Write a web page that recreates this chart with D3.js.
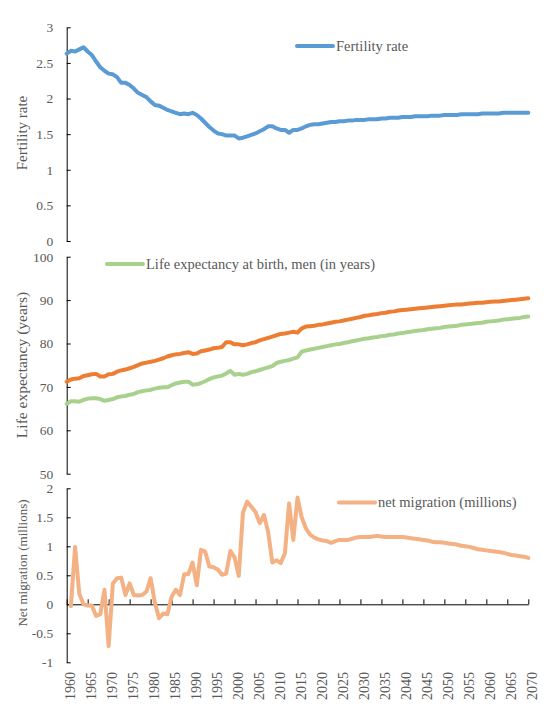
<!DOCTYPE html>
<html>
<head>
<meta charset="utf-8">
<script src="https://cdn.jsdelivr.net/npm/d3@7"></script>
<style>
  html, body { margin: 0; padding: 0; background: #fff; }
  svg { display: block; font-family: "Liberation Serif", "Times New Roman", serif; }
</style>
</head>
<body>
<svg id="chart" width="552" height="708"></svg>
<script>
// ---- data -------------------------------------------------------------
const years = d3.range(1960, 2071);

const fertility = [
  2.63, 2.67, 2.66, 2.69, 2.72, 2.66, 2.61, 2.52, 2.44, 2.39,
  2.35, 2.34, 2.30, 2.22, 2.22, 2.19, 2.14, 2.08, 2.05, 2.02,
  1.96, 1.91, 1.90, 1.87, 1.84, 1.82, 1.80, 1.78, 1.79, 1.78,
  1.80, 1.77, 1.72, 1.66, 1.60, 1.55, 1.51, 1.50, 1.48, 1.48,
  1.48, 1.44, 1.45, 1.47, 1.49, 1.51, 1.54, 1.57, 1.61, 1.61,
  1.58, 1.56, 1.56, 1.52, 1.56, 1.56, 1.58, 1.61, 1.63, 1.64,
  1.64, 1.65, 1.66, 1.67, 1.67, 1.68, 1.68, 1.69, 1.69, 1.70,
  1.70, 1.70, 1.71, 1.71, 1.71, 1.72, 1.72, 1.73, 1.73, 1.73,
  1.74, 1.74, 1.74, 1.75, 1.75, 1.75, 1.75, 1.76, 1.76, 1.76,
  1.77, 1.77, 1.77, 1.77, 1.78, 1.78, 1.78, 1.78, 1.78, 1.79,
  1.79, 1.79, 1.79, 1.79, 1.80, 1.80, 1.80, 1.80, 1.80, 1.80,
  1.80
];

const lifeExpectancyWomen = [
  71.2, 71.7, 71.9, 72.0, 72.5, 72.7, 72.9, 73.0, 72.4, 72.4,
  72.9, 73.0, 73.5, 73.8, 74.0, 74.3, 74.6, 75.0, 75.4, 75.6,
  75.8, 76.0, 76.3, 76.6, 77.0, 77.3, 77.5, 77.6, 77.8, 78.0,
  77.6, 77.7, 78.2, 78.4, 78.6, 78.9, 79.0, 79.2, 80.3, 80.3,
  79.8, 79.8, 79.6, 79.8, 80.1, 80.3, 80.7, 81.0, 81.3, 81.6,
  81.9, 82.2, 82.3, 82.5, 82.7, 82.5, 83.5, 83.9, 84.0, 84.1,
  84.3, 84.4, 84.6, 84.8, 85.0, 85.1, 85.3, 85.5, 85.7, 85.9,
  86.1, 86.4, 86.5, 86.7, 86.8, 87.0, 87.1, 87.3, 87.4, 87.6,
  87.7, 87.8, 87.9, 88.0, 88.1, 88.2, 88.3, 88.4, 88.5, 88.6,
  88.7, 88.8, 88.9, 89.0, 89.0, 89.1, 89.2, 89.3, 89.4, 89.4,
  89.5, 89.6, 89.7, 89.7, 89.8, 89.9, 90.0, 90.1, 90.2, 90.3,
  90.4
];

const lifeExpectancyMen = [
  66.1, 66.7, 66.7, 66.6, 67.0, 67.3, 67.4, 67.4, 67.2, 66.8,
  67.0, 67.2, 67.6, 67.8, 67.9, 68.2, 68.4, 68.8, 69.0, 69.2,
  69.3, 69.6, 69.8, 69.9, 69.9, 70.4, 70.8, 71.0, 71.2, 71.2,
  70.5, 70.6, 70.9, 71.3, 71.8, 72.2, 72.4, 72.6, 73.1, 73.7,
  72.8, 73.0, 72.8, 73.0, 73.4, 73.6, 73.9, 74.2, 74.5, 74.8,
  75.5, 75.8, 76.0, 76.2, 76.5, 76.8, 78.1, 78.4, 78.6, 78.8,
  79.0, 79.2, 79.4, 79.6, 79.8, 79.9, 80.1, 80.3, 80.5, 80.7,
  80.9, 81.1, 81.2, 81.4, 81.5, 81.7, 81.8, 82.0, 82.1, 82.3,
  82.4, 82.6, 82.7, 82.9, 83.0, 83.1, 83.3, 83.4, 83.5, 83.6,
  83.8, 83.9, 84.0, 84.1, 84.3, 84.4, 84.5, 84.6, 84.7, 84.8,
  85.0, 85.1, 85.2, 85.3, 85.5, 85.6, 85.7, 85.8, 85.9, 86.1,
  86.2
];

const netMigration = [
  null, -0.03, 0.99, 0.18, 0.00, -0.02, -0.02, -0.20, -0.17, 0.25,
  -0.72, 0.36, 0.45, 0.46, 0.16, 0.36, 0.16, 0.15, 0.16, 0.22,
  0.45, 0.03, -0.24, -0.16, -0.17, 0.13, 0.25, 0.16, 0.52, 0.52,
  0.72, 0.33, 0.94, 0.91, 0.65, 0.64, 0.60, 0.51, 0.53, 0.92,
  0.81, 0.49, 1.58, 1.77, 1.68, 1.59, 1.40, 1.54, 1.25, 0.72,
  0.76, 0.71, 0.88, 1.74, 1.11, 1.84, 1.50, 1.31, 1.20, 1.15,
  1.12, 1.10, 1.09, 1.06, 1.09, 1.11, 1.11, 1.11, 1.13, 1.15,
  1.16, 1.16, 1.16, 1.17, 1.18, 1.17, 1.16, 1.16, 1.16, 1.16,
  1.16, 1.15, 1.14, 1.13, 1.12, 1.11, 1.10, 1.08, 1.07, 1.07,
  1.06, 1.05, 1.04, 1.03, 1.01, 1.00, 0.99, 0.97, 0.95, 0.94,
  0.93, 0.92, 0.91, 0.90, 0.89, 0.87, 0.85, 0.84, 0.83, 0.82,
  0.80
];

const yearTicks = d3.range(1960, 2071, 5);
const fertilityTicks = [0, 0.5, 1, 1.5, 2, 2.5, 3];
const lifeTicks = [50, 60, 70, 80, 90, 100];
const migrationTicks = [-1, -0.5, 0, 0.5, 1, 1.5, 2];

// ---- layout -----------------------------------------------------------
const svg = d3.select("#chart");
const TEXT = "#595959";
const AXIS = "#000";
const SERIF = '"Liberation Serif", "Times New Roman", serif';

const x = d3.scaleLinear().domain([1960, 2070]).range([66.7, 528.3]);

const yFert = d3.scaleLinear().domain([0, 3]).range([241, 27.3]);
const yLife = d3.scaleLinear().domain([50, 100]).range([473.7, 256.7]);
const yMig  = d3.scaleLinear().domain([-1, 2]).range([662.3, 488.3]);

function yAxis(scale, ticks) {
  const g = svg.append("g")
    .attr("transform", `translate(${x.range()[0]},0)`)
    .call(d3.axisLeft(scale)
      .tickValues(ticks)
      .tickSizeInner(-4)
      .tickSizeOuter(0)
      .tickPadding(13.5)
      .tickFormat(d => String(d)));
  g.select(".domain").attr("stroke", AXIS);
  g.selectAll(".tick line").attr("stroke", AXIS);
  g.selectAll(".tick text")
    .attr("fill", TEXT)
    .style("font-family", SERIF)
    .style("font-size", "13.5px");
  return g;
}

yAxis(yFert, fertilityTicks);
yAxis(yLife, lifeTicks);
yAxis(yMig, migrationTicks);

// horizontal axis crossing the migration panel at zero
const xAxisG = svg.append("g")
  .attr("transform", `translate(0,${yMig(0)})`)
  .call(d3.axisBottom(x)
    .tickValues(yearTicks)
    .tickSizeInner(-5)
    .tickSizeOuter(0)
    .tickFormat(""));
xAxisG.select(".domain").attr("stroke", AXIS);
xAxisG.selectAll(".tick line").attr("stroke", AXIS);

// year labels along the bottom, rotated
const xLabelG = svg.append("g")
  .attr("transform", "translate(0,668)")
  .call(d3.axisBottom(x)
    .tickValues(yearTicks)
    .tickSize(0)
    .tickFormat(d3.format("d")));
xLabelG.select(".domain").remove();
xLabelG.selectAll(".tick text")
  .attr("fill", TEXT)
  .attr("transform", "rotate(-90)")
  .attr("text-anchor", "end")
  .attr("x", -4)
  .attr("y", 0)
  .attr("dy", "0.55em")
  .style("font-family", SERIF)
  .style("font-size", "14px");

// axis titles
const titles = [
  { text: "Fertility rate", y: 133, size: 15 },
  { text: "Life expectancy (years)", y: 365, size: 15.5 },
  { text: "Net migration (millions)", y: 563, size: 13 }
];
svg.selectAll("text.ytitle")
  .data(titles)
  .join("text")
  .attr("class", "ytitle")
  .attr("transform", d => `translate(27,${d.y}) rotate(-90)`)
  .attr("text-anchor", "middle")
  .attr("fill", TEXT)
  .style("font-family", SERIF)
  .style("font-size", d => d.size + "px")
  .text(d => d.text);

// ---- series -----------------------------------------------------------
function drawSeries(values, yScale, color) {
  const pts = years.map((yr, i) => ({ year: yr, v: values[i] }));
  const line = d3.line()
    .defined(d => d.v !== null)
    .x(d => x(d.year))
    .y(d => yScale(d.v));
  svg.append("path")
    .datum(pts)
    .attr("fill", "none")
    .attr("stroke", color)
    .attr("stroke-width", 4)
    .attr("stroke-linejoin", "round")
    .attr("stroke-linecap", "round")
    .attr("d", line);
}

const BLUE = "#5B9BD5", ORANGE = "#ED7D31", GREEN = "#A9D18E", PEACH = "#F4B183";

drawSeries(fertility, yFert, BLUE);
drawSeries(lifeExpectancyWomen, yLife, ORANGE);
drawSeries(lifeExpectancyMen, yLife, GREEN);
drawSeries(netMigration, yMig, PEACH);

// ---- legends ----------------------------------------------------------
const legends = [
  { label: "Fertility rate", color: BLUE, x0: 297, y: 46 },
  { label: "Life expectancy at birth, men (in years)", color: GREEN, x0: 107, y: 264 },
  { label: "net migration (millions)", color: PEACH, x0: 339, y: 502.5 }
];
const lg = svg.selectAll("g.legend")
  .data(legends)
  .join("g")
  .attr("class", "legend")
  .attr("transform", d => `translate(${d.x0},${d.y})`);
lg.append("line")
  .attr("x1", 0).attr("x2", 36)
  .attr("y1", 0).attr("y2", 0)
  .attr("stroke", d => d.color)
  .attr("stroke-width", 4)
  .attr("stroke-linecap", "round");
lg.append("text")
  .attr("x", 39)
  .attr("y", 0)
  .attr("dy", "0.33em")
  .attr("fill", TEXT)
  .style("font-family", SERIF)
  .style("font-size", "14.5px")
  .text(d => d.label);
</script>
</body>
</html>
